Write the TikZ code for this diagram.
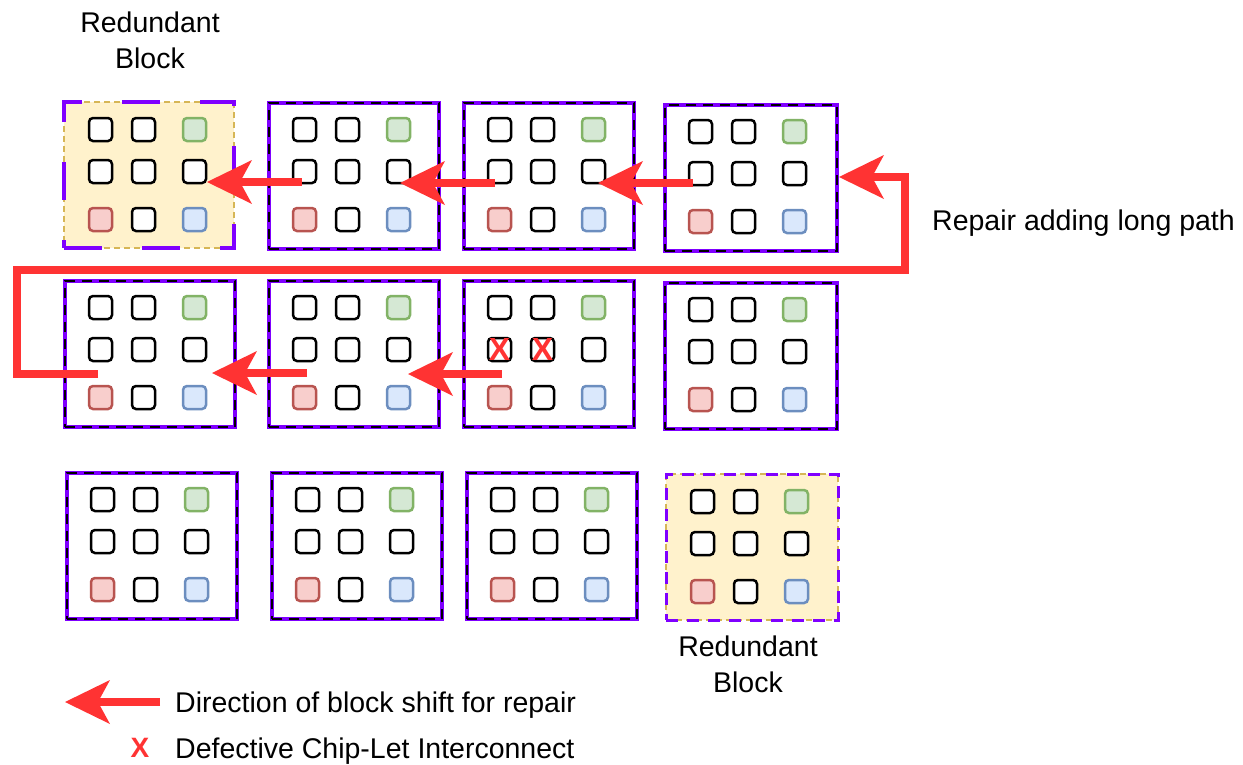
\documentclass[tikz,border=0pt]{standalone}
\usepackage{fontspec}
\setmainfont{Liberation Sans}
\usetikzlibrary{arrows.meta}

\definecolor{blockpurple}{HTML}{7F00FF}
\definecolor{shiftred}{HTML}{FF3333}
\definecolor{sparefill}{HTML}{FFF2CC}
\definecolor{spareline}{HTML}{D6B656}
\definecolor{padgreenfill}{HTML}{D5E8D4}
\definecolor{padgreenline}{HTML}{82B366}
\definecolor{padredfill}{HTML}{F8CECC}
\definecolor{padredline}{HTML}{B85450}
\definecolor{padbluefill}{HTML}{DAE8FC}
\definecolor{padblueline}{HTML}{6C8EBF}

\tikzset{
  blockbox/.style={anchor=north west, minimum width=170, minimum height=146,
    inner sep=0pt, draw=blockpurple, line width=4pt,
    postaction={draw=black, line width=2pt, dash pattern=on 10pt off 7pt}},
  sparebox/.style={anchor=north west, minimum width=170, minimum height=146,
    inner sep=0pt, fill=sparefill, draw=spareline, line width=2pt,
    dash pattern=on 6pt off 4pt},
  sparelong/.style={sparebox,
    postaction={draw=blockpurple, line width=4pt, dash pattern=on 38pt off 40pt}},
  spareshort/.style={sparebox,
    postaction={draw=blockpurple, line width=3pt, dash pattern=on 12pt off 9pt}},
  pad/.style={minimum size=23, inner sep=0pt, rounded corners=4pt,
    line width=2.5pt, draw=black, fill=white},
  padw/.style={pad},
  padg/.style={pad, draw=padgreenline, fill=padgreenfill},
  padr/.style={pad, draw=padredline, fill=padredfill},
  padb/.style={pad, draw=padblueline, fill=padbluefill},
  shiftarrow/.style={draw=shiftred, line width=8pt,
    -{Stealth[length=45pt, width=44pt, inset=12pt, line width=0pt]}},
  label/.style={inner sep=0pt, font=\fontsize{28.5}{36}\selectfont, align=center},
  defect/.style={inner sep=0pt, text=shiftred, font=\fontsize{32}{36}\selectfont\bfseries},
}

% nine interconnect pads inside block #1
\newcommand{\padgrid}[1]{%
  \foreach \r/\c/\kind in {0/0/padw,0/1/padw,0/2/padg,1/0/padw,1/1/padw,1/2/padw,2/0/padr,2/1/padw,2/2/padb}{%
    \pgfmathsetmacro\xx{{37.5,80.5,131.5}[\c]}%
    \pgfmathsetmacro\yy{{28.5,70.5,118.5}[\r]}%
    \node[\kind] (#1-\r\c) at ([shift={(\xx,\yy)}]#1.north west) {};
  }%
}

\begin{document}
\begin{tikzpicture}[x=1pt, y=-1pt]
\useasboundingbox (0,0) rectangle (1243,764);

% blocks, row by row
\node[sparelong] (b11) at (63,101) {};
\node[blockbox] (b12) at (267,101) {};
\node[blockbox] (b13) at (462,101) {};
\node[blockbox, minimum width=172] (b14) at (663,103) {};
\node[blockbox] (b21) at (63,279) {};
\node[blockbox] (b22) at (267,279) {};
\node[blockbox] (b23) at (462,279) {};
\node[blockbox, minimum width=172] (b24) at (663,281) {};
\node[blockbox] (b31) at (65,471) {};
\node[blockbox] (b32) at (270,471) {};
\node[blockbox] (b33) at (465,471) {};
\node[spareshort, minimum width=172] (b34) at (665,473) {};

\foreach \b in {b11,b12,b13,b14,b21,b22,b23,b24,b31,b32,b33,b34}{\padgrid{\b}}

% defective interconnects
\node[defect] (x1) at (b23-10) {X};
\node[defect] (x2) at (b23-11) {X};

% shift arrows
\coordinate (t12) at (302,182); \coordinate (h11) at (207,182);
\coordinate (t13) at (495,183); \coordinate (h12) at (400,183);
\coordinate (t14) at (693,183); \coordinate (h13) at (598,183);
\coordinate (t22) at (307,373); \coordinate (h21) at (212,373);
\coordinate (t23) at (502,374); \coordinate (h22) at (408,374);
\draw[shiftarrow] (t12) -- (h11);
\draw[shiftarrow] (t13) -- (h12);
\draw[shiftarrow] (t14) -- (h13);
\draw[shiftarrow] (t22) -- (h21);
\draw[shiftarrow] (t23) -- (h22);

% long repair path from row 2 back to the end of row 1
\coordinate (lp0) at (98,374);
\coordinate (lp1) at (17,374);
\coordinate (lp2) at (17,270);
\coordinate (lp3) at (905,270);
\coordinate (lp4) at (905,177);
\coordinate (lp5) at (b14.east |- lp4);
\draw[shiftarrow] (lp0) -- (lp1) -- (lp2) -- (lp3) -- (lp4) -- (lp5);

% labels
\node[label, anchor=north] (spare1) at (150,12) {Redundant\\Block};
\node[label, anchor=north] (spare2) at (748,636) {Redundant\\Block};
\node[label, anchor=base west] (longtxt) at (932,230) {Repair adding long path};

% legend
\coordinate (lgt) at (160,702); \coordinate (lgh) at (65,702);
\draw[shiftarrow] (lgt) -- (lgh);
\node[label, anchor=base west] (lg1) at (175,712) {Direction of block shift for repair};
\node[defect, font=\fontsize{28}{32}\selectfont\bfseries] (lgx) at (140,748) {X};
\node[label, anchor=base west] (lg2) at (175,758) {Defective Chip-Let Interconnect};
\end{tikzpicture}
\end{document}
